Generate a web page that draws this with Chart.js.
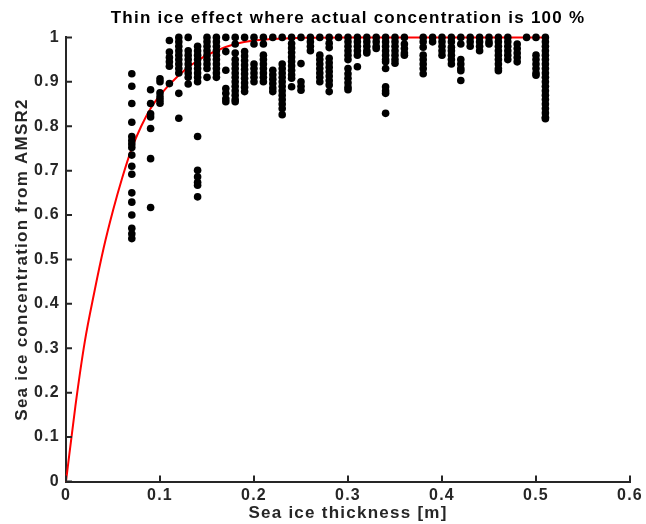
<!DOCTYPE html>
<html>
<head>
<meta charset="utf-8">
<script src="https://cdn.jsdelivr.net/npm/chart.js@4.4.1/dist/chart.umd.min.js"></script>
<style>
  html, body { margin: 0; padding: 0; background: #fff; }
  #wrap { width: 646px; height: 524px; }
</style>
</head>
<body>
<div id="wrap"><canvas id="chart" width="646" height="524"></canvas></div>
<script>
const chartTitle = 'Thin ice effect where actual concentration is 100 %';
const xTitle = 'Sea ice thickness [m]';
const yTitle = 'Sea ice concentration from AMSR2';

// thickness of each column of observations
const thickness = [0.07, 0.09, 0.10, 0.11, 0.12, 0.13, 0.14, 0.15, 0.16, 0.17, 0.18, 0.19, 0.20,
  0.21, 0.22, 0.23, 0.24, 0.25, 0.26, 0.27, 0.28, 0.29, 0.30, 0.31, 0.32, 0.33, 0.34, 0.35, 0.36,
  0.38, 0.39, 0.40, 0.41, 0.42, 0.43, 0.44, 0.45, 0.46, 0.47, 0.48, 0.49, 0.50, 0.51];

// AMSR2 concentrations seen in each column
const concentration = [
  [0.918, 0.89, 0.851, 0.809, 0.777, 0.768, 0.76, 0.752, 0.735, 0.71, 0.692, 0.65, 0.629, 0.6, 0.57, 0.558, 0.547],
  [0.882, 0.851, 0.828, 0.821, 0.795, 0.727, 0.617],
  [0.907, 0.9, 0.875, 0.866, 0.859, 0.852],
  [0.993, 0.967, 0.955, 0.945, 0.935, 0.896],
  [1.0, 0.99, 0.98, 0.97, 0.96, 0.95, 0.94, 0.93, 0.92, 0.874, 0.818],
  [1.0, 0.97, 0.96, 0.95, 0.94, 0.93, 0.92, 0.91, 0.895],
  [0.98, 0.97, 0.96, 0.95, 0.94, 0.93, 0.92, 0.91, 0.9, 0.777, 0.701, 0.686, 0.674, 0.667, 0.641],
  [1.0, 0.99, 0.98, 0.97, 0.96, 0.95, 0.94, 0.93, 0.91],
  [1.0, 0.99, 0.98, 0.97, 0.96, 0.95, 0.94, 0.93, 0.92, 0.91],
  [1.0, 0.968, 0.926, 0.885, 0.874, 0.862, 0.855],
  [1.0, 0.985, 0.965, 0.95, 0.94, 0.93, 0.92, 0.91, 0.9, 0.89, 0.88, 0.87, 0.86, 0.855],
  [1.0, 0.968, 0.958, 0.948, 0.938, 0.928, 0.918, 0.908, 0.898, 0.888, 0.878],
  [1.0, 0.985, 0.94, 0.93, 0.92, 0.91, 0.9],
  [1.0, 0.985, 0.96, 0.95, 0.94, 0.93, 0.92, 0.91, 0.9],
  [1.0, 0.926, 0.916, 0.906, 0.896, 0.886, 0.878],
  [1.0, 0.94, 0.93, 0.92, 0.91, 0.9, 0.89, 0.88, 0.87, 0.86, 0.85, 0.84, 0.826],
  [1.0, 0.986, 0.976, 0.966, 0.956, 0.946, 0.936, 0.926, 0.916, 0.908, 0.889],
  [1.0, 0.941, 0.9, 0.89, 0.881],
  [1.0, 0.99, 0.98, 0.97],
  [1.0, 0.96, 0.95, 0.94, 0.93, 0.92, 0.91, 0.9],
  [1.0, 0.987, 0.977, 0.953, 0.943, 0.933, 0.923, 0.913, 0.903, 0.893, 0.878],
  [1.0],
  [1.0, 0.99, 0.98, 0.97, 0.96, 0.95, 0.93, 0.918, 0.908, 0.898, 0.888, 0.882],
  [1.0, 0.99, 0.98, 0.97, 0.96, 0.934],
  [1.0, 0.99, 0.98, 0.97, 0.965],
  [1.0, 0.99, 0.98, 0.975],
  [1.0, 0.99, 0.98, 0.97, 0.96, 0.95, 0.945, 0.93, 0.889, 0.88, 0.874, 0.829],
  [1.0, 0.99, 0.98, 0.97, 0.96, 0.95, 0.942],
  [1.0, 0.985, 0.975, 0.965, 0.96],
  [1.0, 0.99, 0.978, 0.96, 0.95, 0.94, 0.93, 0.918],
  [1.0, 0.99],
  [1.0, 0.99, 0.98, 0.97, 0.96],
  [1.0, 0.99, 0.978, 0.97, 0.96, 0.95, 0.94],
  [1.0, 0.985, 0.95, 0.94, 0.93, 0.925, 0.903],
  [1.0, 0.99, 0.98],
  [1.0, 0.99, 0.98, 0.97],
  [1.0, 0.99, 0.985],
  [1.0, 0.99, 0.98, 0.97, 0.96, 0.95, 0.94, 0.93, 0.925],
  [1.0, 0.99, 0.98, 0.97, 0.96, 0.95],
  [0.985, 0.975, 0.965, 0.955, 0.945],
  [1.0],
  [1.0, 0.96, 0.95, 0.94, 0.93, 0.92, 0.915],
  [1.0, 0.99, 0.98, 0.97, 0.96, 0.95, 0.94, 0.93, 0.92, 0.91, 0.9, 0.89, 0.88, 0.87, 0.86, 0.85, 0.84, 0.83, 0.82, 0.817]
];

// red fitted curve
const fitX = [0, 0.01, 0.02, 0.03, 0.04, 0.05, 0.06, 0.07, 0.08, 0.09, 0.10, 0.12, 0.14, 0.16, 0.18, 0.20, 0.25, 0.30, 0.40, 0.51];
const fitY = [0, 0.17, 0.315, 0.425, 0.525, 0.61, 0.685, 0.75, 0.80, 0.84, 0.87, 0.915, 0.948, 0.970, 0.985, 0.993, 0.999, 1.0, 1.0, 1.0];

const xTicks = [0, 0.1, 0.2, 0.3, 0.4, 0.5, 0.6];
const yTicks = [0, 0.1, 0.2, 0.3, 0.4, 0.5, 0.6, 0.7, 0.8, 0.9, 1];

const axisColor = '#262626';
const fontFamily = '"Liberation Sans", Arial, Helvetica, sans-serif';

let points = [];
thickness.forEach((x, i) => {
  concentration[i].forEach(y => points.push({x: x, y: y}));
});
let fit = fitX.map((x, i) => ({x: x, y: fitY[i]}));

function label(v) {
  return String(+v.toFixed(2));
}

// the matlab export has loosely spaced letters
const looseText = {
  id: 'looseText',
  beforeDraw(chart) {
    chart.ctx.letterSpacing = '1.25px';
  }
};

// matlab style ticks pointing into the plot
const innerTicks = {
  id: 'innerTicks',
  afterDatasetsDraw(chart) {
    const {ctx, chartArea, scales} = chart;
    ctx.save();
    ctx.strokeStyle = axisColor;
    ctx.lineWidth = 2;
    ctx.beginPath();
    scales.x.ticks.forEach((t, i) => {
      let px = scales.x.getPixelForTick(i);
      ctx.moveTo(px, chartArea.bottom);
      ctx.lineTo(px, chartArea.bottom - 6);
    });
    scales.y.ticks.forEach((t, i) => {
      let py = scales.y.getPixelForTick(i);
      ctx.moveTo(chartArea.left, py);
      ctx.lineTo(chartArea.left + 6, py);
    });
    ctx.stroke();
    ctx.restore();
  }
};

new Chart(document.getElementById('chart'), {
  type: 'scatter',
  data: {
    datasets: [{
      label: 'AMSR2',
      data: points,
      pointRadius: 3.8,
      pointHoverRadius: 3.8,
      pointBackgroundColor: '#000',
      pointBorderWidth: 0,
      clip: false
    }, {
      label: 'fit',
      data: fit,
      showLine: true,
      pointRadius: 0,
      borderColor: '#ff0000',
      borderWidth: 2,
      cubicInterpolationMode: 'monotone',
      clip: false
    }]
  },
  options: {
    responsive: false,
    animation: false,
    events: [],
    layout: { padding: { left: 0, right: 16, top: 0, bottom: 0 } },
    plugins: {
      legend: { display: false },
      tooltip: { enabled: false },
      title: {
        display: true,
        text: chartTitle,
        fullSize: false,
        color: '#000',
        font: { family: fontFamily, size: 17, weight: 'bold', lineHeight: 1.2 },
        padding: { top: 8, bottom: 9 }
      }
    },
    scales: {
      x: {
        type: 'linear',
        min: 0,
        max: 0.6,
        afterBuildTicks: s => { s.ticks = xTicks.map(v => ({value: v})); },
        afterFit: s => { s.height = 42.5; },
        grid: { display: false, drawTicks: false },
        border: { display: true, color: axisColor, width: 2 },
        ticks: {
          color: axisColor,
          padding: 4,
          maxRotation: 0,
          font: { family: fontFamily, size: 16, weight: 'bold' },
          callback: v => label(v)
        },
        title: {
          display: true,
          text: xTitle,
          color: axisColor,
          font: { family: fontFamily, size: 17, weight: 'bold', lineHeight: 1.2 },
          padding: { top: 0, bottom: 0 }
        }
      },
      y: {
        type: 'linear',
        min: 0,
        max: 1,
        afterBuildTicks: s => { s.ticks = yTicks.map(v => ({value: v})); },
        afterFit: s => { s.width = 66; },
        grid: { display: false, drawTicks: false },
        border: { display: true, color: axisColor, width: 2 },
        ticks: {
          color: axisColor,
          padding: 6,
          font: { family: fontFamily, size: 16, weight: 'bold' },
          callback: v => label(v)
        },
        title: {
          display: true,
          text: yTitle,
          color: axisColor,
          font: { family: fontFamily, size: 17, weight: 'bold', lineHeight: 1.2 },
          padding: { top: 12, bottom: 0 }
        }
      }
    }
  },
  plugins: [looseText, innerTicks]
});
</script>
</body>
</html>
